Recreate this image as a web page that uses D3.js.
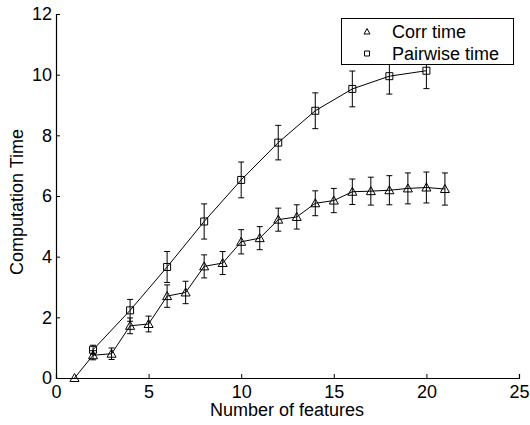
<!DOCTYPE html>
<html><head><meta charset="utf-8">
<script src="https://cdn.jsdelivr.net/npm/d3@7"></script>
<style>body{margin:0;background:#fff}svg{display:block}text{font-family:"Liberation Sans",Arial,sans-serif;fill:#000}</style>
</head><body><svg id="c" width="530" height="425"></svg>
<script>
const corrX = [1,2,3,4,5,6,7,8,9,10,11,12,13,14,15,16,17,18,19,20,21];
const corrY = [0,0.75,0.80,1.72,1.78,2.70,2.82,3.68,3.79,4.49,4.61,5.22,5.31,5.76,5.85,6.14,6.16,6.19,6.25,6.28,6.23];
const corrErr = [0,0.15,0.19,0.26,0.26,0.37,0.37,0.38,0.38,0.40,0.38,0.38,0.40,0.41,0.40,0.42,0.46,0.48,0.51,0.51,0.53];
const pairX = [2,4,6,8,10,12,14,16,18,20];
const pairY = [0.93,2.23,3.66,5.16,6.53,7.76,8.81,9.53,9.95,10.13];
const pairErr = [0.15,0.36,0.51,0.58,0.59,0.57,0.59,0.59,0.59,0.59];
const xTicks = [0,5,10,15,20,25];
const yTicks = [0,2,4,6,8,10,12];
const seriesNames = ["Corr time","Pairwise time"];

const svg = d3.select("#c");
const x = d3.scaleLinear().domain([0,25]).range([56,519]);
const y = d3.scaleLinear().domain([0,12]).range([378,14]);
const fs = 18;

const xa = svg.append("g").attr("transform","translate(0,378)")
  .call(d3.axisBottom(x).tickValues(xTicks).tickSize(-4).tickPadding(7));
const ya = svg.append("g").attr("transform","translate(56,0)")
  .call(d3.axisLeft(y).tickValues(yTicks).tickSize(-4).tickPadding(4));
[xa,ya].forEach(a=>{
  a.select(".domain").attr("stroke","#000").attr("stroke-width",1.2);
  a.selectAll(".tick line").attr("stroke","#000");
  a.selectAll("text").attr("font-size",fs).attr("font-family","Liberation Sans, Arial, sans-serif").attr("fill","#000");
});

svg.append("text").attr("x",287).attr("y",416).attr("text-anchor","middle").attr("font-size",fs).text("Number of features");
svg.append("text").attr("transform","translate(23,275) rotate(-90)").attr("text-anchor","start").attr("font-size",fs).text("Computation Time");

function drawSeries(xs, ys, es, marker){
  const data = xs.map((v,i)=>({x:v,y:ys[i],e:es[i]}));
  const g = svg.append("g");
  g.append("path").datum(data).attr("fill","none").attr("stroke","#000").attr("stroke-width",1)
    .attr("d", d3.line().x(d=>x(d.x)).y(d=>y(d.y)));
  const eb = g.selectAll(".eb").data(data.filter(d=>d.e>0)).enter().append("g");
  eb.append("line").attr("x1",d=>x(d.x)).attr("x2",d=>x(d.x)).attr("y1",d=>y(d.y-d.e)).attr("y2",d=>y(d.y+d.e)).attr("stroke","#000");
  eb.append("line").attr("x1",d=>x(d.x)-3).attr("x2",d=>x(d.x)+3).attr("y1",d=>y(d.y-d.e)).attr("y2",d=>y(d.y-d.e)).attr("stroke","#000");
  eb.append("line").attr("x1",d=>x(d.x)-3).attr("x2",d=>x(d.x)+3).attr("y1",d=>y(d.y+d.e)).attr("y2",d=>y(d.y+d.e)).attr("stroke","#000");
  g.selectAll(".m").data(data).enter().append("path")
    .attr("transform",d=>`translate(${x(d.x)},${y(d.y)})`)
    .attr("d", marker).attr("fill","none").attr("stroke","#000").attr("stroke-width",1);
}
const tri = "M0,-4.5L4.5,3.5L-4.5,3.5Z";
const sq = "M-3.5,-3.5H3.5V3.5H-3.5Z";
drawSeries(corrX, corrY, corrErr, tri);
drawSeries(pairX, pairY, pairErr, sq);

// legend
const lg = svg.append("g");
lg.append("rect").attr("x",341.5).attr("y",18.5).attr("width",172).attr("height",46).attr("fill","#fff").attr("stroke","#000").attr("stroke-width",1);
const lm = [ "M0,-3L3,2.5L-3,2.5Z", "M-2.5,-2.5H2.5V2.5H-2.5Z" ];
seriesNames.forEach((n,i)=>{
  const cy = 31.5 + i*22;
  lg.append("path").attr("transform",`translate(367,${cy})`).attr("d",lm[i]).attr("fill","none").attr("stroke","#000");
  lg.append("text").attr("x",392).attr("y",cy+6.5).attr("font-size",fs).text(n);
});
</script></body></html>
